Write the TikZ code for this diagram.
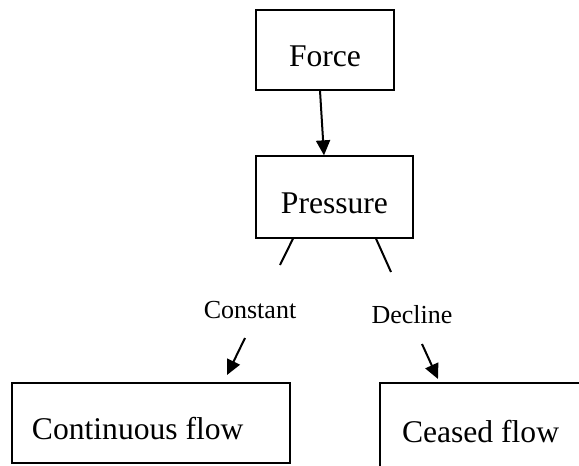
\documentclass[tikz,border=0pt]{standalone}
\usepackage{fontspec}
\setmainfont{Liberation Serif}
\usetikzlibrary{arrows.meta,calc,positioning}

\begin{document}
\begin{tikzpicture}[x=0.5pt,y=-0.5pt,>={Triangle[length=7.5pt,width=7pt]},
  flowbox/.style={draw,line width=0.65pt,inner sep=0pt,text height=16pt,text depth=0pt,font=\fontsize{15.8}{19}\selectfont},
  branch/.style={inner sep=0pt,font=\fontsize{13}{16}\selectfont},
  link/.style={line width=1pt}]

\clip (0,0) rectangle (579,466);

% boxes
\node[flowbox,minimum width=69pt,minimum height=40pt] (force) at (325,50) {Force};
\node[flowbox,minimum width=78.5pt,minimum height=41pt] (pressure) at (334.5,197) {Pressure};
\node[flowbox,minimum height=40pt,inner xsep=10pt,text width=119pt,align=flush left] (continuous) at (151,423) {Continuous flow};
\node[flowbox,minimum height=43pt,inner xsep=11pt,text width=88pt,align=flush left] (ceased) at (490,426) {Ceased flow};

% branch labels
\node[branch] (constant) at (250,310) {Constant};
\node[branch] (decline) at (412,315) {Decline};

\path
  ($(pressure.south)+(-41.5,0)$) coordinate (c0)
  (280,265) coordinate (c1)
  (245,338) coordinate (c2)
  (227,375) coordinate (c3)
  ($(pressure.south)+(41.5,0)$) coordinate (d0)
  (391,272) coordinate (d1)
  (422,344) coordinate (d2)
  (438,379) coordinate (d3);

\draw[link,->] ($(force.south)+(-5,0)$) -- ($(pressure.north)+(-10.5,0)$);
\draw[link] (c0) -- (c1);
\draw[link,->] (c2) -- (c3);
\draw[link] (d0) -- (d1);
\draw[link,->] (d2) -- (d3);

\end{tikzpicture}
\end{document}
